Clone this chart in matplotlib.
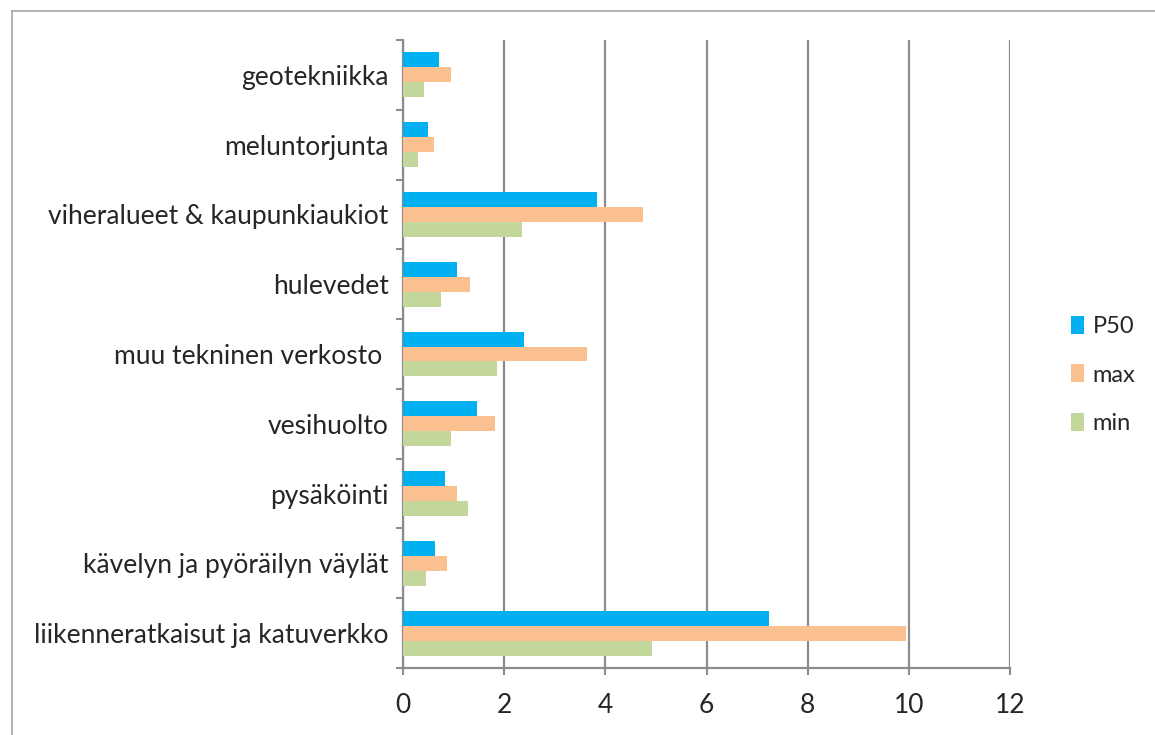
import matplotlib
matplotlib.use("Agg")
import matplotlib.pyplot as plt
from matplotlib.lines import Line2D
import numpy as np

plt.rcParams['font.family'] = ['Lato', 'DejaVu Sans']

categories = [
    "liikenneratkaisut ja katuverkko",
    "kävelyn ja pyöräilyn väylät",
    "pysäköinti",
    "vesihuolto",
    "muu tekninen verkosto ",
    "hulevedet",
    "viheralueet & kaupunkiaukiot",
    "meluntorjunta",
    "geotekniikka",
]
p50 = [7.23, 0.63, 0.83, 1.46, 2.40, 1.08, 3.84, 0.50, 0.71]
vmax = [9.94, 0.87, 1.08, 1.82, 3.64, 1.33, 4.74, 0.62, 0.96]
vmin = [4.92, 0.47, 1.29, 0.96, 1.86, 0.75, 2.36, 0.30, 0.42]
series_names = ["P50", "max", "min"]
x_ticks = [0, 2, 4, 6, 8, 10, 12]

colors = ["#00B0F0", "#FAC090", "#C3D69B"]
grid_col = "#8C8C8C"
text_col = "#262626"

W, H = 1155, 735
fig = plt.figure(figsize=(W / 100, H / 100), dpi=100)
ax = fig.add_axes([402.7 / W, 1 - 668 / H, (1010.3 - 402.7) / W, (668 - 40) / H])

# figure border (left and top)
fig.add_artist(Line2D([12 / W, 12 / W], [0, 1 - 11 / H], color="#A6A6A6", lw=1.2))
fig.add_artist(Line2D([12 / W, 1], [1 - 11 / H, 1 - 11 / H], color="#A6A6A6", lw=1.2))

y = np.arange(len(categories))
h = 0.214
bars = []
for i, (vals, c) in enumerate(zip([p50, vmax, vmin], colors)):
    b = ax.barh(y + (1 - i) * h, vals, height=h, color=c, label=series_names[i], zorder=3)
    bars.append(b)

ax.set_xlim(0, 12)
ax.set_ylim(-0.5, len(categories) - 0.5)
ax.set_xticks(x_ticks)
ax.set_xticklabels([str(t) for t in x_ticks])
ax.set_yticks(y)
ax.set_yticklabels(categories)
ax.set_yticks(np.arange(-0.5, len(categories), 1.0), minor=True)

fs = 19
ax.tick_params(axis='y', which='major', length=0, pad=10, labelsize=fs, labelcolor=text_col)
ax.tick_params(axis='y', which='minor', length=5, width=1.5, color=grid_col, direction='out')
ax.tick_params(axis='x', which='major', length=5, width=1.5, color=grid_col, direction='out',
               pad=13, labelsize=fs, labelcolor=text_col)

ax.grid(axis='x', color=grid_col, lw=1.6, zorder=1)
ax.set_axisbelow(True)
for s in ['top', 'right']:
    ax.spines[s].set_visible(False)
for s in ['left', 'bottom']:
    ax.spines[s].set_color(grid_col)
    ax.spines[s].set_linewidth(1.6)

leg = fig.legend(handles=bars, labels=series_names, loc='center left',
                 bbox_to_anchor=(1050 / W, 1 - 375 / H), frameon=False,
                 fontsize=17, handlelength=0.55, handleheight=0.8, handletextpad=0.35,
                 labelspacing=1.15, labelcolor=text_col)

fig.savefig("out.png", dpi=100)
